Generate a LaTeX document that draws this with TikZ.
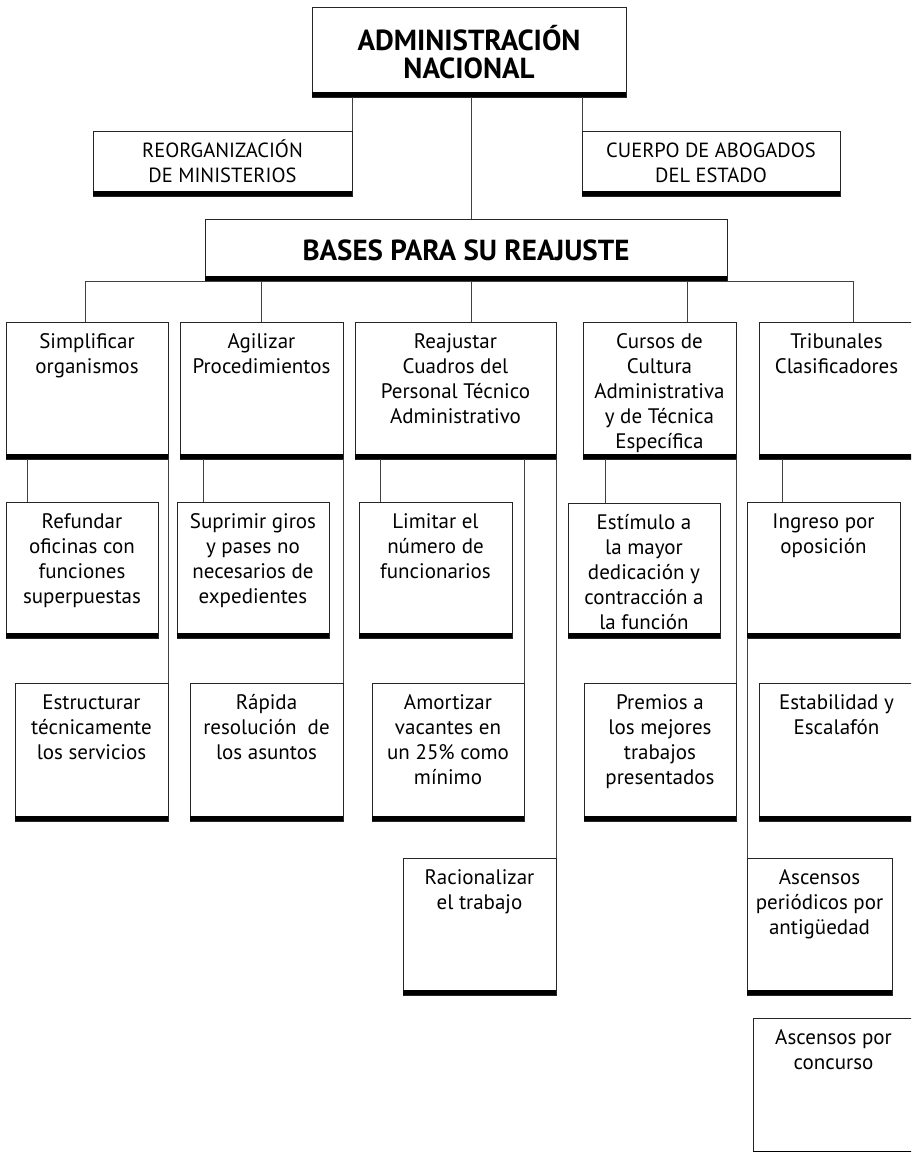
\documentclass[tikz,border=0pt]{standalone}
\usepackage{fontspec}
\setmainfont{PT Sans}
\usetikzlibrary{calc}

% Frame of an organisation box: thin outline with a heavy bar along its bottom edge.
% #1 name, (#2,#3) top-left corner, (#4,#5) bottom-right corner
\newcommand\orgframe[5]{%
  \pgfmathsetmacro\bxw{#4-#2}%
  \pgfmathsetmacro\bxh{#5-#3}%
  \node[frame, minimum width=\bxw pt, minimum height=\bxh pt, anchor=north west] (#1) at (#2,#3) {};
  \draw[bar] ([yshift=2.5pt]#1.south west) -- ([yshift=2.5pt]#1.south east);
}
% Invisible rule that fixes the height of a first line, so that the
% first baseline sits a known distance below the node's north anchor.
\newcommand\firstline[1]{\rule{0pt}{#1}}
% Box with its text set from the top: first baseline 26pt below the top edge.
\newcommand\orgbox[6]{%
  \orgframe{#1}{#2}{#3}{#4}{#5}%
  \node[boxtext, anchor=north] (#1-txt) at ($(#1.north)+(0,5)$) {\firstline{21pt}#6};
}

\begin{document}
\begin{tikzpicture}[x=1pt, y=-1pt,
  frame/.style={draw=black!85, line width=1pt, fill=white, inner sep=0pt, outer sep=0pt},
  bar/.style={line width=5pt, black},
  wire/.style={draw=black!75, line width=1pt},
  boxtext/.style={inner sep=0pt, align=center, font=\fontsize{21}{25}\selectfont},
  captext/.style={inner sep=0pt, align=center, font=\fontsize{20.5}{25}\selectfont},
  headtext/.style={inner sep=0pt, align=center, font=\bfseries\fontsize{29}{28}\selectfont}]

\clip (0,0) rectangle (911,1152);
\fill[white] (0,0) rectangle (911,1152);

% reference points of the trunk and the distribution bus
\coordinate (trunk) at (471,0);
\coordinate (busL) at (85,281);
\coordinate (busR) at (853,281);
\coordinate (cursdrop) at (687,281);

% ---- top level ----
\orgframe{adm}{312}{7}{626}{97}
\node[headtext, anchor=north] (adm-txt) at ($(adm.north)+(0,14)$) {\firstline{29pt}ADMINISTRACIÓN\\NACIONAL};

\orgframe{reorg}{93}{131}{352}{196}
\node[captext, anchor=north] (reorg-txt) at ($(reorg.north)+(0,5)$) {\firstline{21pt}REORGANIZACIÓN\\DE MINISTERIOS};
\orgframe{cuerpo}{582}{131}{840}{196}
\node[captext, anchor=north] (cuerpo-txt) at ($(cuerpo.north)+(0,5)$) {\firstline{21pt}CUERPO DE ABOGADOS\\DEL ESTADO};

\orgframe{bases}{205}{219}{727}{281}
\node[headtext, anchor=base] (bases-txt) at ($(bases.north)+(0,41)$) {BASES PARA SU REAJUSTE};

% ---- second level ----
\orgbox{simp}{6}{322}{168}{459}{Simplificar\\organismos}
\orgbox{agil}{180}{322}{343}{459}{Agilizar\\Procedimientos}
\orgbox{reaj}{355}{322}{556}{459}{Reajustar\\Cuadros del\\Personal Técnico\\Administrativo}
\orgbox{curs}{583}{322}{736}{459}{Cursos de\\Cultura\\Administrativa\\y de Técnica\\Específica}
\orgbox{trib}{759}{322}{914}{459}{Tribunales\\Clasificadores}

% ---- measures ----
\orgbox{refund}{6}{502}{158}{638}{Refundar\\oficinas con\\funciones\\superpuestas}
\orgbox{suprim}{177}{502}{329}{638}{Suprimir giros\\y pases no\\necesarios de\\expedientes}
\orgbox{limitar}{359}{502}{512}{638}{Limitar el\\número de\\funcionarios}
\orgbox{estim}{568}{503}{720}{638}{Estímulo a\\la mayor\\dedicación y\\contracción a\\la función}
\orgbox{ingreso}{747}{502}{900}{638}{Ingreso por\\oposición}

\orgbox{estruct}{15}{683}{168}{821}{Estructurar\\técnicamente\\los servicios}
\orgbox{rapida}{190}{683}{343}{821}{Rápida\\resolución~ de\\los asuntos}
\orgbox{amort}{372}{683}{524}{821}{Amortizar\\vacantes en\\un 25\% como\\mínimo}
\orgbox{premios}{584}{683}{736}{821}{Premios a\\los mejores\\trabajos\\presentados}
\orgbox{estab}{759}{683}{914}{821}{Estabilidad y\\Escalafón}

\orgbox{racional}{403}{858}{556}{995}{Racionalizar\\el trabajo}
\orgbox{ascper}{747}{858}{892}{995}{Ascensos\\periódicos por\\antigüedad}

\orgbox{concurso}{753}{1018}{914}{1156}{Ascensos por\\concurso}

% ---- connectors ----
\draw[wire] (adm.south -| reorg.east) -- (reorg.north east);
\draw[wire] (adm.south -| cuerpo.west) -- (cuerpo.north west);
\draw[wire] (adm.south -| trunk) -- (bases.north -| trunk);

\draw[wire] (busL |- simp.north) -- (busL) -- (busR) -- (busR |- trib.north);
\draw[wire] (agil.north) -- (agil.north |- busL);
\draw[wire] (trunk |- busL) -- (trunk |- reaj.north);
\draw[wire] (cursdrop) -- (cursdrop |- curs.north);

\draw[wire] ([xshift=21pt]refund.north west) -- ([xshift=21pt]refund.north west |- simp.south);
\draw[wire] ([xshift=26pt]suprim.north west) -- ([xshift=26pt]suprim.north west |- agil.south);
\draw[wire] ([xshift=21pt]limitar.north west) -- ([xshift=21pt]limitar.north west |- reaj.south);
\draw[wire] ([xshift=37pt]estim.north west) -- ([xshift=37pt]estim.north west |- curs.south);
\draw[wire] ([xshift=35pt]ingreso.north west) -- ([xshift=35pt]ingreso.north west |- trib.south);

\draw[wire] (simp.south east) -- (estruct.north east);
\draw[wire] (agil.south east) -- (rapida.north east);
\draw[wire] (amort.north east |- reaj.south) -- (amort.north east);
\draw[wire] (reaj.south east) -- (racional.north east);
\draw[wire] (curs.south east) -- (premios.north east);
\draw[wire] (ingreso.south west) -- (ascper.north west);
\end{tikzpicture}
\end{document}
